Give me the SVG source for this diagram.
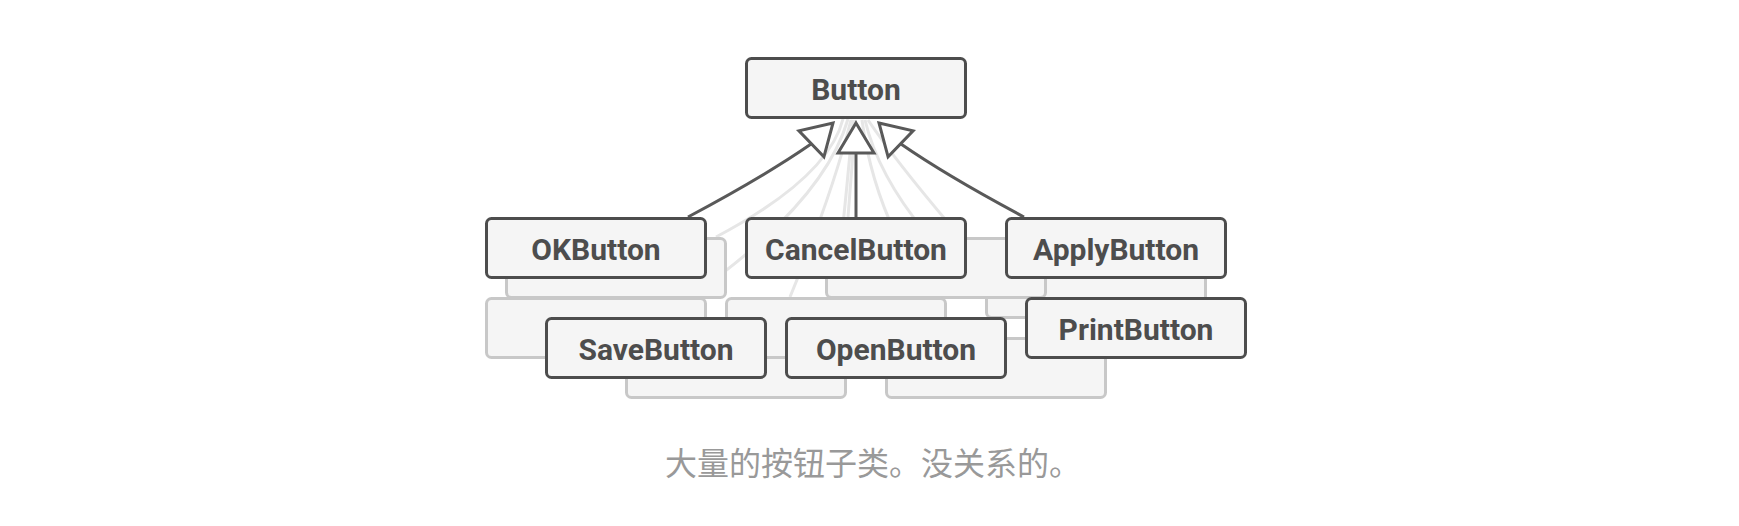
<svg xmlns="http://www.w3.org/2000/svg" xmlns:xlink="http://www.w3.org/1999/xlink" width="1739" height="526" viewBox="0 0 1739 526">
  <style>
    .node rect { fill: #f5f5f5; stroke: #4d4d4d; stroke-width: 3; }
    .ghost rect { fill: #f5f5f5; stroke: #c8c8c8; stroke-width: 3; }
    .lbl { font-family: Roboto, "Liberation Sans", sans-serif; font-weight: bold; font-size: 30px; fill: #4d4d4d; text-anchor: middle; }
    .faint { fill: none; stroke: #e6e6e6; stroke-width: 3; }
    .edge { fill: none; stroke: #595959; stroke-width: 3; }
    .head { fill: #ffffff; stroke: #595959; stroke-width: 3; stroke-linejoin: miter; }
    .caption { font-family: "Noto Sans CJK SC", sans-serif; font-size: 32px; fill: #999999; }
  </style>
  <defs>
    <polygon id="tri" points="0,0 18,30 -18,30"/>
  </defs>
  <rect width="1739" height="526" fill="#ffffff"/>

  <g id="faint-connectors">
    <path class="faint" d="M843,119 Q828,178 716,237"/>
    <path class="faint" d="M848,119 Q825,200 700,290"/>
    <path class="faint" d="M851,120 Q832,195 790,297"/>
    <path class="faint" d="M853,120 Q846,200 835,300"/>
    <path class="faint" d="M855,120 Q852,170 848,217"/>
    <path class="faint" d="M862,120 Q870,180 896,235"/>
    <path class="faint" d="M865,120 Q878,175 925,232"/>
    <path class="faint" d="M868,120 Q895,160 950,225"/>
  </g>

  <g id="ghost-F" class="ghost"><rect x="626.5" y="338.5" width="219" height="59" rx="5"/></g>
  <g id="ghost-G" class="ghost"><rect x="886.5" y="338.5" width="219" height="59" rx="5"/></g>
  <g id="ghost-D" class="ghost"><rect x="986.5" y="258.5" width="219" height="59" rx="5"/></g>
  <g id="ghost-C" class="ghost"><rect x="826.5" y="238.5" width="219" height="59" rx="5"/></g>
  <g id="ghost-B" class="ghost"><rect x="486.5" y="298.5" width="219" height="59" rx="5"/></g>
  <g id="ghost-A" class="ghost"><rect x="506.5" y="238.5" width="219" height="59" rx="5"/></g>
  <g id="ghost-E" class="ghost"><rect x="726.5" y="298.5" width="219" height="59" rx="5"/></g>

  <g id="connectors">
    <path class="edge" d="M688,217 Q765,176 811.4,143.8"/>
    <path class="edge" d="M856,217 L856,153"/>
    <path class="edge" d="M1024,217 Q947,176 900.6,143.8"/>
    <use xlink:href="#tri" class="head" transform="translate(833,123) rotate(46)"/>
    <use xlink:href="#tri" class="head" transform="translate(856,123)"/>
    <use xlink:href="#tri" class="head" transform="translate(879,123) rotate(-46)"/>
  </g>

  <g id="Button" class="node"><rect x="746.5" y="58.5" width="219" height="59" rx="5"/><text class="lbl" x="856" y="100">Button</text></g>
  <g id="OKButton" class="node"><rect x="486.5" y="218.5" width="219" height="59" rx="5"/><text class="lbl" x="596" y="260">OKButton</text></g>
  <g id="CancelButton" class="node"><rect x="746.5" y="218.5" width="219" height="59" rx="5"/><text class="lbl" x="856" y="260">CancelButton</text></g>
  <g id="ApplyButton" class="node"><rect x="1006.5" y="218.5" width="219" height="59" rx="5"/><text class="lbl" x="1116" y="260">ApplyButton</text></g>
  <g id="PrintButton" class="node"><rect x="1026.5" y="298.5" width="219" height="59" rx="5"/><text class="lbl" x="1136" y="340">PrintButton</text></g>
  <g id="SaveButton" class="node"><rect x="546.5" y="318.5" width="219" height="59" rx="5"/><text class="lbl" x="656" y="360">SaveButton</text></g>
  <g id="OpenButton" class="node"><rect x="786.5" y="318.5" width="219" height="59" rx="5"/><text class="lbl" x="896" y="360">OpenButton</text></g>

  <g id="caption"><text class="caption" x="665" y="475">大量的按钮子类。没关系的。</text></g>
</svg>
